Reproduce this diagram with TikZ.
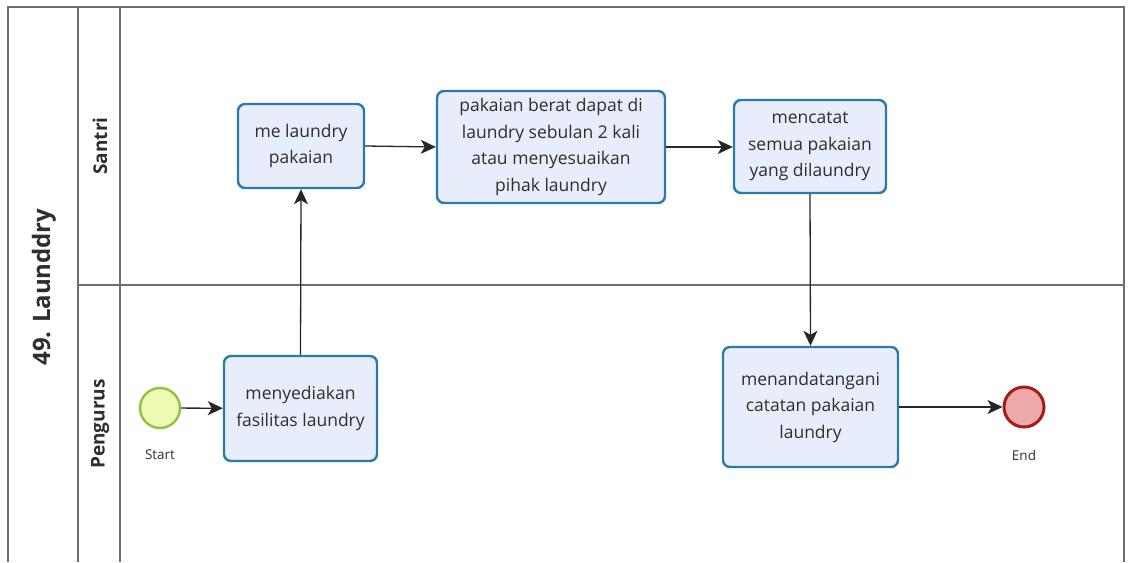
\documentclass[tikz,border=0pt]{standalone}
\usepackage{fontspec}
\setmainfont{Open Sans}
\usetikzlibrary{arrows.meta}
\definecolor{taskfill}{HTML}{E8EDFB}
\definecolor{taskdraw}{HTML}{2A7BA8}
\definecolor{startfill}{HTML}{EEFAB4}
\definecolor{startdraw}{HTML}{8BC53F}
\definecolor{endfill}{HTML}{EDA8A8}
\definecolor{enddraw}{HTML}{A51C1C}
\definecolor{poolline}{HTML}{6E6E6E}
\definecolor{txt}{HTML}{2E2E2E}
\tikzset{
  task/.style={draw=taskdraw, fill=taskfill, line width=2.4pt, rounded corners=7pt,
    align=center, text=txt, font=\fontsize{17.5}{26.5}\selectfont, inner sep=0pt},
  startev/.style={circle, draw=startdraw, fill=startfill, line width=2.4pt, minimum size=40pt, inner sep=0pt},
  endev/.style={circle, draw=enddraw, fill=endfill, line width=3pt, minimum size=40pt, inner sep=0pt},
  flow/.style={draw=black!85, line width=1.3pt, -{Stealth[length=15pt,width=14pt,inset=4pt]}},
  frame/.style={draw=poolline, line width=1.6pt},
  evlabel/.style={text=txt, font=\fontsize{13.5}{16}\selectfont},
}
\begin{document}
\begin{tikzpicture}[x=1pt,y=-1pt]
\useasboundingbox (0,0) rectangle (1131,562);
% pool frame
\draw[frame] (8,562) -- (8,7) -- (1124,7) -- (1124,562);
\draw[frame] (78,7) -- (78,562);
\draw[frame] (120,7) -- (120,562);
\draw[frame] (78,285) -- (1124,285);
% labels
\node[rotate=90, font=\bfseries\fontsize{24}{28}\selectfont, text=txt] (pool) at (44,287) {49. Launddry};
\node[rotate=90, font=\bfseries\fontsize{19}{22}\selectfont, text=txt] (lane1) at (100,146) {Santri};
\node[rotate=90, font=\bfseries\fontsize{19}{22}\selectfont, text=txt] (lane2) at (100,424) {Pengurus};
% tasks
\node[task, minimum width=126pt, minimum height=84pt] (t1) at (301,146) {me laundry\\pakaian};
\node[task, minimum width=228pt, minimum height=112pt] (t2) at (551,147) {pakaian berat dapat di\\laundry sebulan 2 kali\\atau menyesuaikan\\pihak laundry};
\node[task, minimum width=152pt, minimum height=93pt] (t3) at (810,146.5) {mencatat\\semua pakaian\\yang dilaundry};
\node[task, minimum width=153pt, minimum height=105pt] (t0) at (300.5,408.5) {menyediakan\\fasilitas laundry};
\node[task, minimum width=175pt, minimum height=120pt] (t4) at (810.5,407) {menandatangani\\catatan pakaian\\laundry};
% events
\node[startev] (s) at (160,408) {};
\node[evlabel] (sl) at (160,455) {Start};
\node[endev] (e) at (1024,407) {};
\node[evlabel] (el) at (1024,455) {End};
% flows
\draw[flow] (s) -- (t0);
\draw[flow] (t0.north) -- (t1.south);
\draw[flow] (t1.east) -- (t2.west);
\draw[flow] (t2.east) -- (t3.west |- t2.east);
\draw[flow] (t3.south) -- (t4.north);
\draw[flow] (t4.east) -- (e.west);
\end{tikzpicture}
\end{document}
